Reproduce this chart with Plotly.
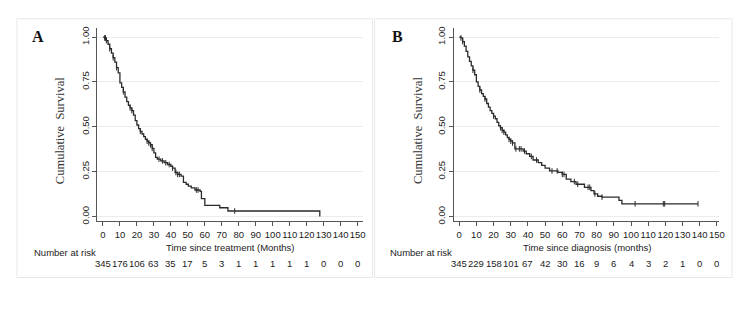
import numpy as np
import plotly.graph_objects as go

# ---------------- data ----------------
ticks_x = list(range(0, 151, 10))
ticks_y = [0.0, 0.25, 0.5, 0.75, 1.0]
ticks_y_labels = ["0.00", "0.25", "0.50", "0.75", "1.00"]

# Panel A: time since treatment
tA = [0, 1, 2, 3, 4, 5, 6, 7, 8, 9, 10, 11, 12, 13, 14, 15, 16, 17, 18, 19, 20,
      21, 22, 23, 24, 25, 26, 27, 28, 29, 30, 31, 32, 34, 36, 38, 40, 41, 42.5,
      44, 46, 47.4, 49, 50.3, 52, 54.2, 57.2, 58, 60, 68.8, 73.6, 127.7]
sA = [1.0, 0.995, 0.98, 0.96, 0.935, 0.91, 0.885, 0.86, 0.83, 0.80, 0.745, 0.72,
      0.695, 0.665, 0.64, 0.62, 0.605, 0.59, 0.565, 0.535, 0.51, 0.49, 0.475,
      0.46, 0.445, 0.43, 0.42, 0.41, 0.40, 0.38, 0.355, 0.33, 0.32, 0.31, 0.30,
      0.29, 0.28, 0.27, 0.245, 0.235, 0.225, 0.19, 0.18, 0.17, 0.16, 0.148,
      0.14, 0.10, 0.062, 0.049, 0.031, 0.0]
censA = [1, 1.5, 2, 4, 6, 8, 12, 16, 17, 22, 26, 27, 28, 29, 33, 35, 37, 39, 41,
         43, 44, 45, 55, 56, 77.6]
riskA = [345, 176, 106, 63, 35, 17, 5, 3, 1, 1, 1, 1, 1, 0, 0, 0]

# Panel B: time since diagnosis
tB = [0, 1, 2, 3, 4, 5, 6, 7, 8, 9, 10, 11, 12, 13, 14, 15, 16, 17, 18, 19, 20,
      21, 22, 23, 24, 25, 26, 27, 28, 29, 30, 31, 32.4, 37.2, 39, 41, 43, 46, 48,
      50, 52.6, 57.5, 60, 62.3, 65, 68, 72.9, 76.7, 78.5, 80.6, 83.1, 93, 94.7, 139]
sB = [1.0, 0.995, 0.975, 0.95, 0.92, 0.89, 0.865, 0.84, 0.815, 0.79, 0.75, 0.725,
      0.705, 0.685, 0.67, 0.655, 0.63, 0.61, 0.59, 0.575, 0.56, 0.545, 0.525,
      0.505, 0.495, 0.48, 0.47, 0.455, 0.44, 0.43, 0.42, 0.41, 0.377, 0.365,
      0.35, 0.335, 0.315, 0.30, 0.285, 0.27, 0.254, 0.246, 0.235, 0.208, 0.195,
      0.18, 0.163, 0.145, 0.126, 0.113, 0.108, 0.09, 0.071, 0.071]
censB = [1, 2, 8, 12, 15, 20, 24, 25, 26, 29, 30, 31, 33, 35, 36, 38, 42, 45, 54,
         57, 60, 61, 67, 69, 75, 76, 79, 83.1, 102.4, 118.8, 119.6, 139]
riskB = [345, 229, 158, 101, 67, 42, 30, 16, 9, 6, 4, 3, 2, 1, 0, 0]

titleA = "Time since treatment (Months)"
titleB = "Time since diagnosis (months)"
ytitle = "Cumulative  Survival"

# ---------------- helpers ----------------
W, H = 750, 310
def px(x): return x / W
def py(y): return 1 - y / H

def step_at(ts, ss, t):
    idx = np.searchsorted(np.array(ts), t, side="right") - 1
    return ss[max(idx, 0)]

LINE = "#2a2a2a"
AX = "#555555"
TXT = "#222222"
SANS = "Liberation Sans, Arial, sans-serif"
SERIF = "Liberation Serif, Times New Roman, serif"

fig = go.Figure()

for (ts, ss, cens, xa, ya) in [(tA, sA, censA, "x", "y"), (tB, sB, censB, "x2", "y2")]:
    fig.add_trace(go.Scatter(x=ts, y=ss, mode="lines", line=dict(color=LINE, width=1.3, shape="hv"),
                             xaxis=xa, yaxis=ya, showlegend=False, hoverinfo="skip"))
    fig.add_trace(go.Scatter(x=cens, y=[step_at(ts, ss, c) for c in cens], mode="markers",
                             marker=dict(symbol="line-ns", size=4, line=dict(color=LINE, width=1)),
                             xaxis=xa, yaxis=ya, showlegend=False, hoverinfo="skip"))

ydom = [py(223), py(26.7)]
common_x = dict(tickmode="array", tickvals=ticks_x, ticks="outside", ticklen=4, tickcolor=AX,
                showline=True, linecolor=AX, linewidth=1, showgrid=False, zeroline=False,
                tickangle=0,
                tickfont=dict(family=SANS, size=9.5, color=TXT))
common_y = dict(tickmode="array", tickvals=ticks_y, ticktext=ticks_y_labels, ticks="outside",
                ticklen=4, tickcolor=AX, showline=True, linecolor=AX, linewidth=1,
                showgrid=True, gridcolor="#ececec", gridwidth=1, zeroline=False,
                tickangle=-90, range=[-0.027, 1.049], domain=ydom,
                tickfont=dict(family=SANS, size=9.5, color=TXT))

fig.update_layout(
    width=W, height=H, autosize=False,
    margin=dict(l=0, r=0, t=0, b=0),
    paper_bgcolor="white", plot_bgcolor="white",
    xaxis=dict(common_x, domain=[px(98), px(365.7)], range=[-3.3, 153.3], anchor="y"),
    yaxis=dict(common_y, anchor="x"),
    xaxis2=dict(common_x, domain=[px(456.7), px(724.3)], range=[-3.24, 151.5], anchor="y2"),
    yaxis2=dict(common_y, anchor="x2"),
)

shapes = []
for x0, x1 in [(17, 375), (377, 737)]:
    shapes.append(dict(type="rect", xref="paper", yref="paper", x0=px(x0), x1=px(x1),
                       y0=py(280), y1=py(17), line=dict(color="#e8e8e8", width=1),
                       fillcolor="rgba(0,0,0,0)", layer="below"))
fig.update_layout(shapes=shapes)

ann = []
panels = [("A", 38, 232, titleA, 32, riskA, "x", 60.7),
          ("B", 400, 591, titleB, 391, riskB, "x2", 421)]
for lab, labx, tx, title, nx, risk, xa, yx in panels:
    ann.append(dict(text="<b>%s</b>" % lab, x=px(labx), y=py(35), xref="paper", yref="paper",
                    showarrow=False, xanchor="center", yanchor="middle",
                    font=dict(family=SERIF, size=16, color="#111")))
    ann.append(dict(text=title, x=px(tx), y=py(249.3), xref="paper", yref="paper",
                    showarrow=False, xanchor="center", yanchor="middle",
                    font=dict(family=SANS, size=9.5, color=TXT)))
    ann.append(dict(text="Number at risk", x=px(nx), y=py(255), xref="paper", yref="paper",
                    showarrow=False, xanchor="left", yanchor="middle",
                    font=dict(family=SANS, size=9.5, color=TXT)))
    ann.append(dict(text=ytitle, x=px(yx), y=py(131), xref="paper", yref="paper",
                    showarrow=False, xanchor="center", yanchor="middle", textangle=-90,
                    font=dict(family=SERIF, size=12.5, color="#333")))
    for t, r in zip(ticks_x, risk):
        ann.append(dict(text=str(r), x=t, y=py(265.7), xref=xa, yref="paper",
                        showarrow=False, xanchor="center", yanchor="middle",
                        font=dict(family=SANS, size=9.5, color=TXT)))
fig.update_layout(annotations=ann)

fig.write_html("out.html")
